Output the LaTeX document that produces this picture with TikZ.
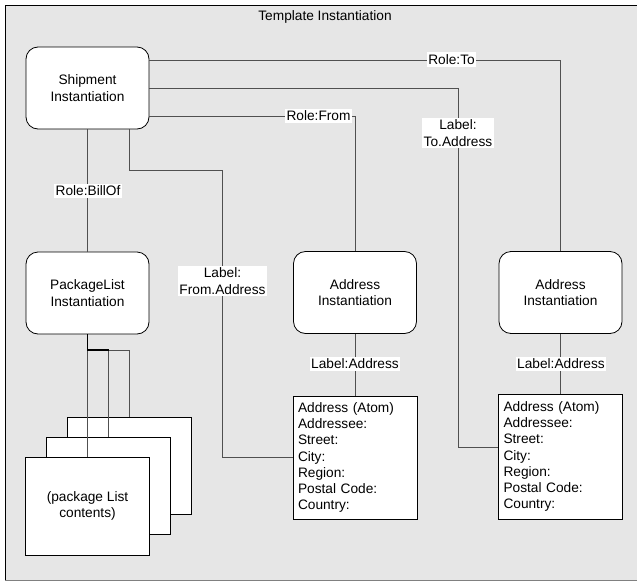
\documentclass[tikz,border=0pt]{standalone}
\usepackage{fontspec}
\setmainfont{Liberation Sans}
\definecolor{bg}{HTML}{E6E6E6}
\definecolor{ln}{HTML}{505050}
\begin{document}
\begin{tikzpicture}[x=1pt,y=-1pt,
  font=\fontsize{13.7}{16.3}\selectfont,
  inst/.style={draw=black, fill=white, rounded corners=12pt, minimum width=123pt, minimum height=82pt, align=center, line width=0.8pt, inner sep=0pt},
  atom/.style={draw=black, fill=white, minimum width=124pt, minimum height=123pt, text width=114pt, inner xsep=5pt, align=left, line width=0.8pt},
  pkg/.style={draw=black, fill=white, minimum width=124pt, minimum height=97pt, align=center, line width=0.8pt},
  conn/.style={draw=ln, line width=0.8pt},
  lbl/.style={fill=white, inner xsep=1.5pt, inner ysep=2pt, align=center}
]
\useasboundingbox (0,0) rectangle (637,581);
\fill[bg] (5,5) rectangle (637,580);
\draw[black, line width=0.8pt] (5,580) -- (5,5) -- (637,5);
\draw[gray, line width=0.8pt] (5,580) -- (637,580);

\node (title) at (325,17) {Template Instantiation};

\node[inst] (ship) at (87.5,88) {Shipment\\Instantiation};
\node[inst] (plist) at (87.5,293) {PackageList\\Instantiation};
\node[inst] (addrL) at (355,292.5) {Address\\Instantiation};
\node[inst] (addrR) at (560.5,292.5) {Address\\Instantiation};

\node[atom] (atomL) at (355,457.5) {Address (Atom)\\Addressee:\\Street:\\City:\\Region:\\Postal Code:\\Country:};
\node[atom, minimum height=125pt] (atomR) at (560.5,456.5) {Address (Atom)\\Addressee:\\Street:\\City:\\Region:\\Postal Code:\\Country:};

\node[pkg] (pkgC) at (129,465.5) {};
\node[pkg] (pkgB) at (108.5,485.5) {};
\node[pkg, minimum height=98pt] (pkgA) at (87.5,506) {(package List\\contents)};

% connectors
\draw[conn] (ship.east |- 0,60) -| (addrR.north);
\draw[conn] (ship.east) -- (458,88) -- (458,447) -- (atomR.west |- 0,447);
\draw[conn] (ship.east |- 0,116) -| (addrL.north);
\draw[conn] (ship.south -| 129,0) -- (129,170) -| (222,457) -- (atomL.west |- 0,457);
\draw[conn] (ship.south) -- (plist.north);
\draw[conn] (addrL.south) -- (atomL.north);
\draw[conn] (addrR.south) -- (atomR.north);

\draw[conn] (plist.south) -- (pkgA.north);
\draw[conn] (plist.south) -- (plist.south |- 0,350) -| (pkgB.north);
\draw[conn] (plist.south) -- (plist.south |- 0,350) -| (pkgC.north);
\draw[black, line width=1.4pt] (plist.south) -- (plist.south |- 0,350) -- (108.5,350);

% labels
\node[lbl] (lTo) at (451.5,59.5) {Role:To};
\node[lbl] (lToAddr) at (458,133) {Label:\\To.Address};
\node[lbl] (lFrom) at (318.5,116) {Role:From};
\node[lbl] (lFromAddr) at (222.5,281) {Label:\\From.Address};
\node[lbl] (lBill) at (88,191) {Role:BillOf};
\node[lbl] (lAddrL) at (355,364) {Label:Address};
\node[lbl] (lAddrR) at (561,364) {Label:Address};
\end{tikzpicture}
\end{document}
